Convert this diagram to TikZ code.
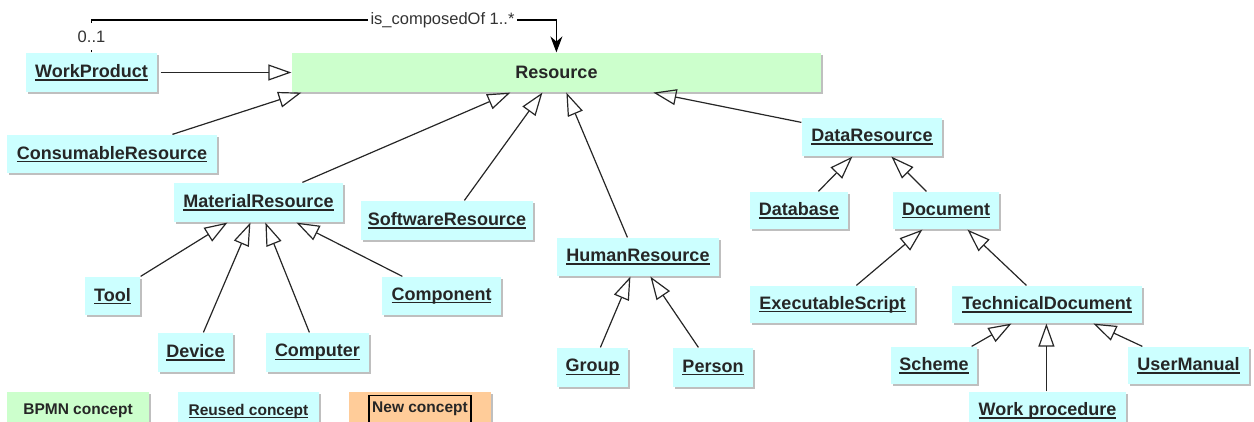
\documentclass[tikz,border=0pt]{standalone}
\usepackage{fontspec}
\setmainfont{Liberation Sans}
\usepackage{tikz}
\usetikzlibrary{arrows.meta, shadows}

\definecolor{cyanbg}{RGB}{204,255,255}
\definecolor{greenbg}{RGB}{204,255,204}
\definecolor{orangebg}{RGB}{255,204,153}

% underlined class name, fixed distance below baseline
\newcommand{\undl}[1]{\setbox0\hbox{#1}\rlap{\rule[-3pt]{\wd0}{1.3pt}}\box0}

\begin{document}
\begin{tikzpicture}[x=1pt, y=-1pt, line width=1.2pt]

\useasboundingbox (0,0) rectangle (1254,422);
\clip (0,0) rectangle (1254,422);

% styles
\tikzstyle{box}=[inner sep=0pt, minimum height=38, text=black!85, font=\fontsize{18}{20}\selectfont\bfseries, drop shadow={shadow xshift=2pt, shadow yshift=-2pt, fill=black!25, opacity=1}]
\tikzstyle{reusedbox}=[box, fill=cyanbg]
\tikzstyle{bpmnbox}=[box, fill=greenbg]
\tikzstyle{legendbox}=[box, font=\fontsize{15.5}{18}\selectfont\bfseries]
\tikzstyle{gen}=[draw=black!85, -{Triangle[open, length=23pt, width=16pt]}]
\tikzstyle{assoc}=[-{Stealth[length=16pt, width=12pt]}]
\tikzstyle{lbl}=[fill=white, inner xsep=2pt, inner ysep=0pt, text=black!80, font=\fontsize{16.5}{18}\selectfont]

% top level
\node[bpmnbox, minimum width=529, minimum height=39] (res) at (556.5,72.5) {Resource};
\node[reusedbox, minimum width=131, minimum height=39] (wp) at (91.5,72.5) {\undl{WorkProduct}};
\node[reusedbox, minimum width=210] (cons) at (112,154) {\undl{ConsumableResource}};
\node[reusedbox, minimum width=169, minimum height=39] (mat) at (258.5,202.5) {\undl{MaterialResource}};
\node[reusedbox, minimum width=172, minimum height=39] (sw) at (447,220.5) {\undl{SoftwareResource}};
\node[reusedbox, minimum width=162] (hr) at (638,257) {\undl{HumanResource}};
\node[reusedbox, minimum width=140] (dr) at (872,137) {\undl{DataResource}};

% material resources
\node[reusedbox, minimum width=55] (tool) at (112.5,296) {\undl{Tool}};
\node[reusedbox, minimum width=119] (compo) at (441.5,296) {\undl{Component}};
\node[reusedbox, minimum width=75, minimum height=39] (dev) at (195.5,352.5) {\undl{Device}};
\node[reusedbox, minimum width=103, minimum height=39] (comp) at (317.5,352.5) {\undl{Computer}};

% human resources
\node[reusedbox, minimum width=71, minimum height=39] (grp) at (592.5,367.5) {\undl{Group}};
\node[reusedbox, minimum width=80, minimum height=39] (per) at (713,367.5) {\undl{Person}};

% data resources
\node[reusedbox, minimum width=98, minimum height=37] (db) at (799,210.5) {\undl{Database}};
\node[reusedbox, minimum width=106, minimum height=37] (doc) at (946,210.5) {\undl{Document}};
\node[reusedbox, minimum width=165, minimum height=37] (es) at (832.5,304.5) {\undl{ExecutableScript}};
\node[reusedbox, minimum width=190, minimum height=37] (td) at (1047,304.5) {\undl{TechnicalDocument}};
\node[reusedbox, minimum width=86, minimum height=37] (sch) at (934,365.5) {\undl{Scheme}};
\node[reusedbox, minimum width=121, minimum height=37] (um) at (1188.5,365.5) {\undl{UserManual}};
\node[reusedbox, minimum width=157] (wpr) at (1047.5,411) {\undl{Work procedure}};

% generalisations
\draw[gen] ([xshift=3]wp.east) -- (res.west);
\draw[gen] ([xshift=166]cons.north west) -- ([xshift=10]res.south west);
\draw[gen] ([xshift=129]mat.north west) -- ([xshift=219]res.south west);
\draw[gen] ([xshift=104]sw.north west) -- ([xshift=251]res.south west);
\draw[gen] ([xshift=71]hr.north west) -- ([xshift=275]res.south west);
\draw[gen] ([yshift=-5]dr.north west) -- ([xshift=362]res.south west);

\draw[gen] (tool.north east) -- ([xshift=54]mat.south west);
\draw[gen] ([xshift=46]dev.north west) -- ([xshift=77]mat.south west);
\draw[gen] ([xshift=44]comp.north west) -- ([xshift=92]mat.south west);
\draw[gen] ([xshift=21]compo.north west) -- ([xshift=123]mat.south west);

\draw[gen] ([xshift=44]grp.north west) -- ([xshift=74]hr.south west);
\draw[gen] ([xshift=26]per.north west) -- ([xshift=94]hr.south west);

\draw[gen] ([xshift=69]db.north west) -- ([xshift=51]dr.south west);
\draw[gen] ([xshift=34]doc.north west) -- ([xshift=90]dr.south west);
\draw[gen] ([xshift=107]es.north west) -- ([xshift=30]doc.south west);
\draw[gen] ([xshift=75]td.north west) -- ([xshift=75]doc.south west);
\draw[gen] ([xshift=-6]sch.north east) -- ([xshift=60]td.south west);
\draw[gen] ([xshift=78]wpr.north west) -- ([xshift=95]td.south west);
\draw[gen] ([xshift=15]um.north west) -- ([xshift=142]td.south west);

% composition
\coordinate (top) at (0,20);
\draw[assoc] (wp.north) -- (wp.north |- top) -| ([xshift=265]res.north west);
\node[lbl, minimum height=27] (mult) at (91.5,37) {0..1};
\node[lbl, inner xsep=3pt] (role) at (442.5,20) {is\_composedOf 1..*};

% legend
\node[legendbox, fill=greenbg, minimum width=142] (lbpmn) at (78,411) {BPMN concept};
\node[legendbox, fill=cyanbg, minimum width=141] (lreused) at (248.5,411) {\undl{Reused concept}};
\node[legendbox, fill=orangebg, minimum width=142] (lnew) at (420,411) {};
\node[draw, inner sep=0pt, minimum width=102, minimum height=27, text=black!85, font=\fontsize{15.5}{18}\selectfont\bfseries] (lnewtxt) at (420,409) {New concept};

\end{tikzpicture}
\end{document}
